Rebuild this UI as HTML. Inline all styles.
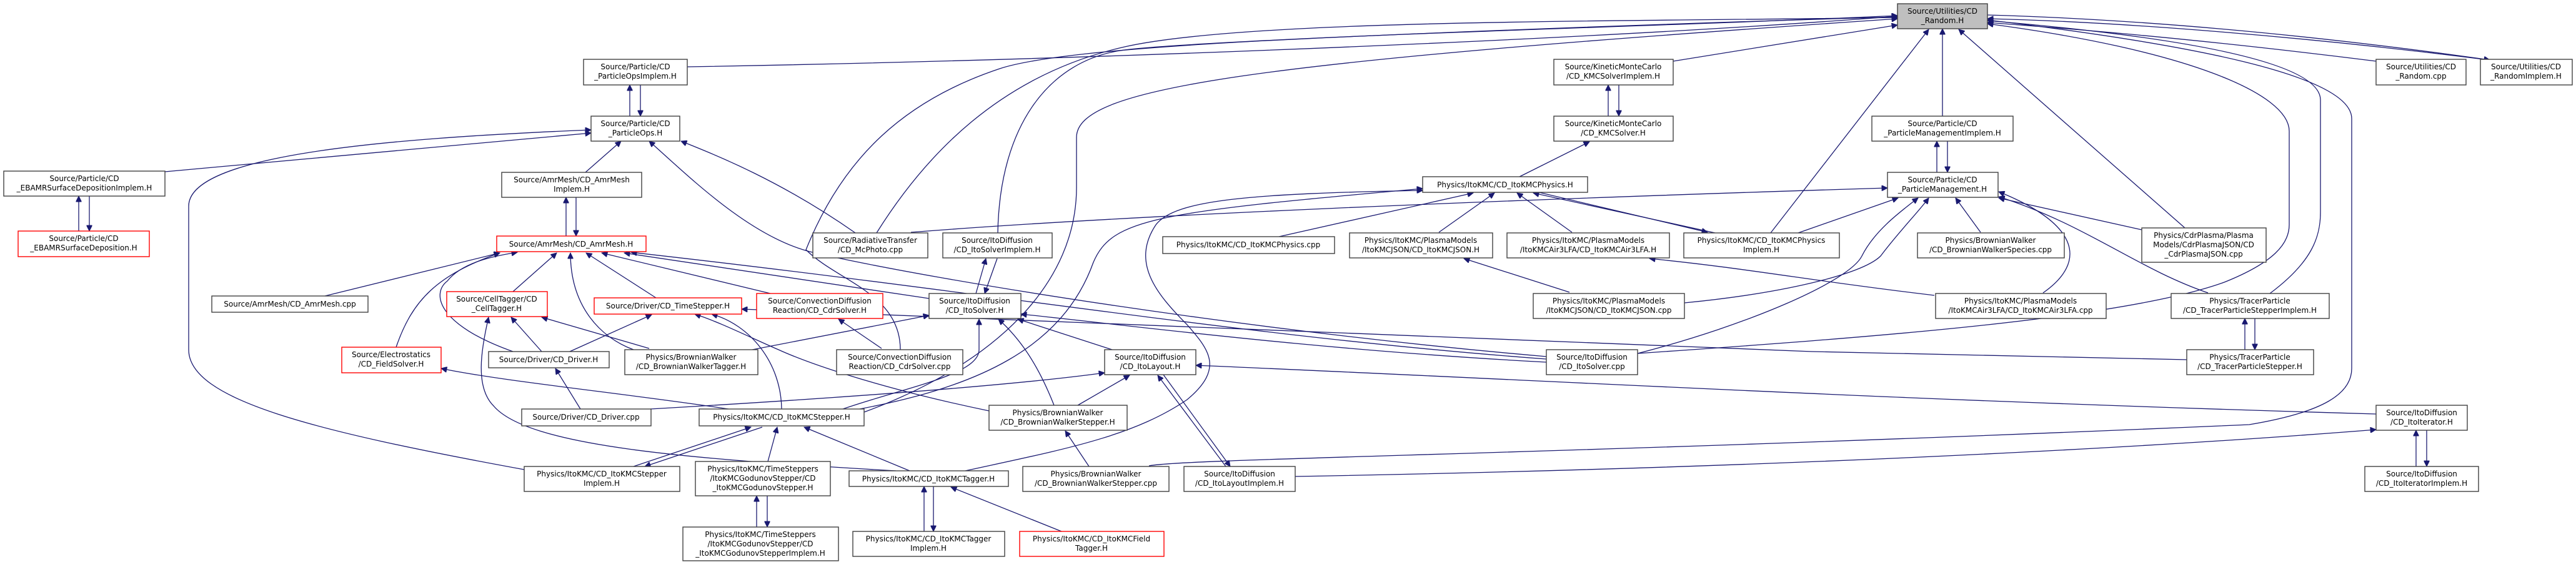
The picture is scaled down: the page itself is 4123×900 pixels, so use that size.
<!DOCTYPE html>
<html><head><meta charset="utf-8"><style>
html,body{margin:0;padding:0;background:#fff;}
svg{display:block;}
text{font-family:"DejaVu Sans","Liberation Sans",sans-serif;font-size:12px;fill:#000;}
.e{fill:none;stroke:#191970;stroke-width:1.3;}
.b{fill:#fff;stroke:#404040;stroke-width:1.4;}
.r{fill:#fff;stroke:#ff0000;stroke-width:1.4;}
.g{fill:#bfbfbf;stroke:#404040;stroke-width:1.4;}
</style></head><body>
<svg width="4123" height="900" viewBox="0 0 4123 900" xmlns="http://www.w3.org/2000/svg">
<defs><marker id="a" viewBox="0 0 10 10" refX="10" refY="5" markerUnits="userSpaceOnUse" markerWidth="12" markerHeight="9" orient="auto"><path d="M0,0 L10,5 L0,10 z" fill="#191970" stroke="#191970"/></marker></defs>
<g class="e" marker-end="url(#a)">
<path d="M1100,107 C1800,95 2600,60 3037,26"/>
<path d="M2678,98 L3037,40"/>
<path d="M3109,186 L3109,46"/>
<path d="M2834,373 L3087,47"/>
<path d="M3497,365 L3135,47"/>
<path d="M1403,373 C1480,250 1600,120 1800,75 S2600,35 3037,28"/>
<path d="M1597,373 C1600,200 1680,95 1800,80 S2600,40 3037,27"/>
<path d="M1383,660 C1600,580 1723,450 1723,300 L1723,220 C1723,140 2000,100 3037,30"/>
<path d="M1441,560 C1441,470 1340,450 1290,400 C1350,250 1450,160 1600,110 S2500,50 3037,25"/>
<path d="M3803,98 C3500,60 3300,45 3181,36"/>
<path d="M3975,95 C3700,60 3400,35 3181,30"/>
<path d="M3181,24 C3500,33 3800,70 3985,96"/>
<path d="M3633,470 C3700,420 3714,380 3714,340 L3714,160 C3714,100 3500,60 3181,33"/>
<path d="M2621,566 C3000,540 3400,510 3560,452 C3640,420 3664,390 3664,360 L3664,210 C3664,150 3500,80 3181,38"/>
<path d="M1839,746 C1900,734 2500,728 3600,680 C3720,660 3764,630 3764,590 L3764,190 C3764,120 3500,70 3181,32"/>
<path d="M1008,186 L1008,136"/>
<path d="M1025,136 L1025,186"/>
<path d="M264,275 L946,213"/>
<path d="M839,752 C500,690 302,640 302,560 L302,330 C302,250 600,222 946,208"/>
<path d="M937,276 L994,226"/>
<path d="M2475,571 C2000,530 1500,450 1300,404 C1200,380 1100,280 1039,226"/>
<path d="M1369,373 C1250,290 1150,250 1090,226"/>
<path d="M126,370 L126,314"/>
<path d="M143,314 L143,370"/>
<path d="M906,378 L906,316"/>
<path d="M922,316 L922,378"/>
<path d="M520,474 L800,405"/>
<path d="M821,467 L891,405"/>
<path d="M634,556 C660,480 700,440 800,405"/>
<path d="M821,563 C700,520 690,470 716,450 C740,420 790,410 828,404"/>
<path d="M1014,560 C960,540 913,490 913,405"/>
<path d="M1050,477 L938,405"/>
<path d="M1233,470 L963,405"/>
<path d="M1487,478 L999,405"/>
<path d="M2475,575 C2000,540 1600,470 1010,404"/>
<path d="M867,563 L818,508"/>
<path d="M1039,558 L867,508"/>
<path d="M1434,754 C1100,735 845,715 790,650 C760,620 770,560 782,508"/>
<path d="M903,567 L1043,504"/>
<path d="M1251,655 C1250,580 1200,520 1139,503"/>
<path d="M1583,658 C1400,620 1290,580 1246,560 C1200,540 1150,515 1112,503"/>
<path d="M3500,576 L2900,563 L1187,495"/>
<path d="M929,655 L889,590"/>
<path d="M1014,747 L1202,684"/>
<path d="M1220,684 L1032,747"/>
<path d="M1229,739 L1244,684"/>
<path d="M1456,754 L1287,684"/>
<path d="M1211,844 L1211,794"/>
<path d="M1228,794 L1228,844"/>
<path d="M1479,851 L1479,779"/>
<path d="M1494,779 L1494,851"/>
<path d="M1699,851 L1522,780"/>
<path d="M1166,655 C1000,630 800,610 706,590"/>
<path d="M1041,655 C1300,640 1600,620 1768,597"/>
<path d="M1349,655 C1450,620 1567,600 1567,560 L1567,511"/>
<path d="M1376,655 C1560,620 1700,560 1750,420 C1780,350 1850,340 2277,302"/>
<path d="M1545,754 C1700,720 1812,700 1900,640 C1960,590 1935,560 1900,520 C1850,470 1810,420 1850,360 C1880,320 2000,310 2277,305"/>
<path d="M1411,558 L1342,511"/>
<path d="M1204,560 L1487,505"/>
<path d="M1562,470 L1578,414"/>
<path d="M1596,414 L1576,470"/>
<path d="M1687,649 C1660,580 1630,540 1598,511"/>
<path d="M1780,560 L1629,511"/>
<path d="M2475,580 C2100,560 1800,520 1634,503"/>
<path d="M1725,649 L1808,601"/>
<path d="M1743,747 L1705,690"/>
<path d="M1962,747 L1853,601"/>
<path d="M1862,600 L1969,747"/>
<path d="M3803,663 C3000,640 2500,610 1914,585"/>
<path d="M2073,763 C2800,750 3400,720 3803,688"/>
<path d="M2574,186 L2574,136"/>
<path d="M2591,136 L2591,186"/>
<path d="M2432,283 L2544,227"/>
<path d="M2303,372 L2392,309"/>
<path d="M2516,372 L2428,309"/>
<path d="M2745,373 L2454,309"/>
<path d="M2463,308 L2733,372"/>
<path d="M2047,379 L2358,309"/>
<path d="M2512,468 L2343,414"/>
<path d="M3096,473 C2900,450 2800,430 2640,414"/>
<path d="M1458,372 C1800,345 2400,320 3021,301"/>
<path d="M2621,566 C2800,520 2960,450 2980,410 C3000,370 3040,340 3070,317"/>
<path d="M2696,485 C2850,470 2980,440 3010,410 C3040,370 3070,340 3087,317"/>
<path d="M2878,373 L3038,317"/>
<path d="M3170,372 L3130,317"/>
<path d="M3270,469 C3340,420 3330,360 3199,307"/>
<path d="M3428,368 L3199,317"/>
<path d="M3534,469 C3420,430 3340,360 3199,315"/>
<path d="M3100,276 L3100,226"/>
<path d="M3117,226 L3117,276"/>
<path d="M3593,560 L3593,510"/>
<path d="M3609,510 L3609,560"/>
<path d="M3867,747 L3867,689"/>
<path d="M3884,689 L3884,747"/>
</g>
<g text-anchor="middle">
<rect class="b" x="6" y="274" width="258" height="40"/><text x="135" y="290">Source/Particle/CD</text><text x="135" y="305">_EBAMRSurfaceDepositionImplem.H</text>
<rect class="r" x="29" y="370" width="210" height="41"/><text x="134" y="386">Source/Particle/CD</text><text x="134" y="401">_EBAMRSurfaceDeposition.H</text>
<rect class="b" x="803" y="276" width="224" height="40"/><text x="915" y="292">Source/AmrMesh/CD_AmrMesh</text><text x="915" y="307">Implem.H</text>
<rect class="r" x="795" y="378" width="239" height="25"/><text x="914" y="395">Source/AmrMesh/CD_AmrMesh.H</text>
<rect class="b" x="934" y="95" width="166" height="41"/><text x="1017" y="111">Source/Particle/CD</text><text x="1017" y="126">_ParticleOpsImplem.H</text>
<rect class="b" x="946" y="186" width="142" height="40"/><text x="1017" y="202">Source/Particle/CD</text><text x="1017" y="217">_ParticleOps.H</text>
<rect class="b" x="339" y="474" width="250" height="26"/><text x="464" y="491">Source/AmrMesh/CD_AmrMesh.cpp</text>
<rect class="r" x="715" y="467" width="161" height="40"/><text x="795" y="483">Source/CellTagger/CD</text><text x="795" y="498">_CellTagger.H</text>
<rect class="r" x="951" y="477" width="236" height="26"/><text x="1069" y="494">Source/Driver/CD_TimeStepper.H</text>
<rect class="r" x="547" y="556" width="159" height="41"/><text x="626" y="572">Source/Electrostatics</text><text x="626" y="587">/CD_FieldSolver.H</text>
<rect class="b" x="782" y="563" width="193" height="26"/><text x="878" y="580">Source/Driver/CD_Driver.H</text>
<rect class="b" x="1000" y="560" width="213" height="40"/><text x="1106" y="576">Physics/BrownianWalker</text><text x="1106" y="591">/CD_BrownianWalkerTagger.H</text>
<rect class="b" x="835" y="655" width="207" height="27"/><text x="938" y="672">Source/Driver/CD_Driver.cpp</text>
<rect class="b" x="839" y="747" width="249" height="40"/><text x="963" y="763">Physics/ItoKMC/CD_ItoKMCStepper</text><text x="963" y="778">Implem.H</text>
<rect class="b" x="1119" y="655" width="264" height="27"/><text x="1251" y="672">Physics/ItoKMC/CD_ItoKMCStepper.H</text>
<rect class="b" x="1113" y="739" width="216" height="55"/><text x="1221" y="755">Physics/ItoKMC/TimeSteppers</text><text x="1221" y="770">/ItoKMCGodunovStepper/CD</text><text x="1221" y="785">_ItoKMCGodunovStepper.H</text>
<rect class="b" x="1093" y="844" width="249" height="54"/><text x="1217" y="860">Physics/ItoKMC/TimeSteppers</text><text x="1217" y="875">/ItoKMCGodunovStepper/CD</text><text x="1217" y="890">_ItoKMCGodunovStepperImplem.H</text>
<rect class="r" x="1211" y="470" width="202" height="40"/><text x="1312" y="486">Source/ConvectionDiffusion</text><text x="1312" y="501">Reaction/CD_CdrSolver.H</text>
<rect class="b" x="1339" y="560" width="202" height="40"/><text x="1440" y="576">Source/ConvectionDiffusion</text><text x="1440" y="591">Reaction/CD_CdrSolver.cpp</text>
<rect class="b" x="1301" y="373" width="184" height="40"/><text x="1393" y="389">Source/RadiativeTransfer</text><text x="1393" y="404">/CD_McPhoto.cpp</text>
<rect class="b" x="1509" y="373" width="175" height="40"/><text x="1596" y="389">Source/ItoDiffusion</text><text x="1596" y="404">/CD_ItoSolverImplem.H</text>
<rect class="b" x="1487" y="470" width="147" height="40"/><text x="1560" y="486">Source/ItoDiffusion</text><text x="1560" y="501">/CD_ItoSolver.H</text>
<rect class="b" x="1768" y="560" width="146" height="40"/><text x="1841" y="576">Source/ItoDiffusion</text><text x="1841" y="591">/CD_ItoLayout.H</text>
<rect class="b" x="1583" y="649" width="221" height="40"/><text x="1693" y="665">Physics/BrownianWalker</text><text x="1693" y="680">/CD_BrownianWalkerStepper.H</text>
<rect class="b" x="1637" y="747" width="234" height="40"/><text x="1754" y="763">Physics/BrownianWalker</text><text x="1754" y="778">/CD_BrownianWalkerStepper.cpp</text>
<rect class="b" x="1895" y="747" width="178" height="40"/><text x="1984" y="763">Source/ItoDiffusion</text><text x="1984" y="778">/CD_ItoLayoutImplem.H</text>
<rect class="b" x="1359" y="754" width="255" height="25"/><text x="1486" y="771">Physics/ItoKMC/CD_ItoKMCTagger.H</text>
<rect class="b" x="1365" y="851" width="243" height="40"/><text x="1486" y="867">Physics/ItoKMC/CD_ItoKMCTagger</text><text x="1486" y="882">Implem.H</text>
<rect class="r" x="1632" y="851" width="231" height="40"/><text x="1747" y="867">Physics/ItoKMC/CD_ItoKMCField</text><text x="1747" y="882">Tagger.H</text>
<rect class="b" x="1861" y="379" width="275" height="27"/><text x="1998" y="396">Physics/ItoKMC/CD_ItoKMCPhysics.cpp</text>
<rect class="b" x="2160" y="373" width="229" height="40"/><text x="2274" y="389">Physics/ItoKMC/PlasmaModels</text><text x="2274" y="404">/ItoKMCJSON/CD_ItoKMCJSON.H</text>
<rect class="b" x="2412" y="373" width="260" height="40"/><text x="2542" y="389">Physics/ItoKMC/PlasmaModels</text><text x="2542" y="404">/ItoKMCAir3LFA/CD_ItoKMCAir3LFA.H</text>
<rect class="b" x="2695" y="373" width="249" height="40"/><text x="2819" y="389">Physics/ItoKMC/CD_ItoKMCPhysics</text><text x="2819" y="404">Implem.H</text>
<rect class="b" x="2277" y="283" width="264" height="25"/><text x="2409" y="300">Physics/ItoKMC/CD_ItoKMCPhysics.H</text>
<rect class="b" x="2487" y="95" width="191" height="41"/><text x="2582" y="111">Source/KineticMonteCarlo</text><text x="2582" y="126">/CD_KMCSolverImplem.H</text>
<rect class="b" x="2487" y="186" width="191" height="40"/><text x="2582" y="202">Source/KineticMonteCarlo</text><text x="2582" y="217">/CD_KMCSolver.H</text>
<rect class="b" x="2454" y="470" width="242" height="40"/><text x="2575" y="486">Physics/ItoKMC/PlasmaModels</text><text x="2575" y="501">/ItoKMCJSON/CD_ItoKMCJSON.cpp</text>
<rect class="b" x="2475" y="560" width="146" height="40"/><text x="2548" y="576">Source/ItoDiffusion</text><text x="2548" y="591">/CD_ItoSolver.cpp</text>
<rect class="g" x="3037" y="6" width="144" height="40"/><text x="3109" y="22">Source/Utilities/CD</text><text x="3109" y="37">_Random.H</text>
<rect class="b" x="2996" y="186" width="226" height="40"/><text x="3109" y="202">Source/Particle/CD</text><text x="3109" y="217">_ParticleManagementImplem.H</text>
<rect class="b" x="3021" y="276" width="177" height="40"/><text x="3109" y="292">Source/Particle/CD</text><text x="3109" y="307">_ParticleManagement.H</text>
<rect class="b" x="3069" y="373" width="235" height="40"/><text x="3186" y="389">Physics/BrownianWalker</text><text x="3186" y="404">/CD_BrownianWalkerSpecies.cpp</text>
<rect class="b" x="3098" y="470" width="273" height="40"/><text x="3234" y="486">Physics/ItoKMC/PlasmaModels</text><text x="3234" y="501">/ItoKMCAir3LFA/CD_ItoKMCAir3LFA.cpp</text>
<rect class="b" x="3428" y="365" width="199" height="55"/><text x="3527" y="381">Physics/CdrPlasma/Plasma</text><text x="3527" y="396">Models/CdrPlasmaJSON/CD</text><text x="3527" y="411">_CdrPlasmaJSON.cpp</text>
<rect class="b" x="3475" y="470" width="253" height="40"/><text x="3601" y="486">Physics/TracerParticle</text><text x="3601" y="501">/CD_TracerParticleStepperImplem.H</text>
<rect class="b" x="3500" y="560" width="203" height="40"/><text x="3601" y="576">Physics/TracerParticle</text><text x="3601" y="591">/CD_TracerParticleStepper.H</text>
<rect class="b" x="3803" y="95" width="144" height="41"/><text x="3875" y="111">Source/Utilities/CD</text><text x="3875" y="126">_Random.cpp</text>
<rect class="b" x="3970" y="95" width="147" height="41"/><text x="4043" y="111">Source/Utilities/CD</text><text x="4043" y="126">_RandomImplem.H</text>
<rect class="b" x="3803" y="649" width="146" height="40"/><text x="3876" y="665">Source/ItoDiffusion</text><text x="3876" y="680">/CD_ItoIterator.H</text>
<rect class="b" x="3785" y="747" width="182" height="40"/><text x="3876" y="763">Source/ItoDiffusion</text><text x="3876" y="778">/CD_ItoIteratorImplem.H</text>
</g>
</svg>
</body></html>
